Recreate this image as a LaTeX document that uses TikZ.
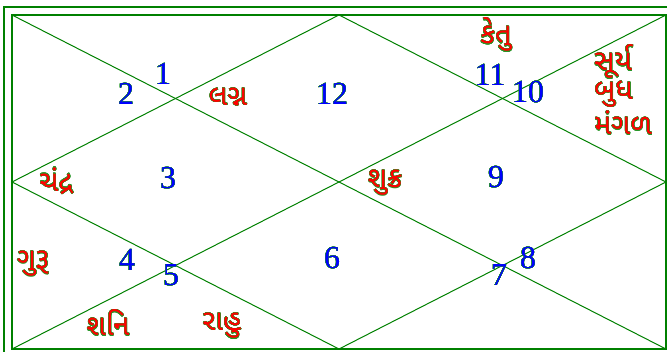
\documentclass[tikz,border=0pt]{standalone}
\usepackage{fontspec}
\setmainfont{Liberation Serif}
\newfontfamily\guj[Script=Gujarati]{Noto Sans Gujarati UI}
\usepackage{contour}
\contourlength{0.3pt}
\contournumber{16}
\definecolor{chartgreen}{RGB}{0,128,0}
\definecolor{edgegreen}{RGB}{40,150,40}
\newcommand{\numtext}[1]{\contourlength{0.15pt}\contour{edgegreen}{#1}}
\newcommand{\gujtext}[1]{\contourlength{0.3pt}\contour{edgegreen}{#1}}
\begin{document}
\begin{tikzpicture}[x=1pt,y=-1pt,
  frame/.style={draw=chartgreen,line width=1.1pt},
  grid/.style={draw=chartgreen,line width=1pt},
  num/.style={text=blue,font=\fontsize{32}{32}\selectfont,inner sep=0pt},
  planet/.style={text=red,font=\guj\fontsize{29}{29}\selectfont,inner sep=0pt}]
\useasboundingbox (0,0) rectangle (667,352);
\clip (0,0) rectangle (667,352);
\coordinate (OTL) at (4,7);
\coordinate (OBR) at (680,362);
\coordinate (TL) at (12,15);
\coordinate (TR) at (666,15);
\coordinate (BL) at (12,349);
\coordinate (BR) at (666,349);
\coordinate (T) at (339,15);
\coordinate (L) at (12,182);
\coordinate (B) at (339,349);
\coordinate (R) at (666,182);
\draw[frame] (OTL) rectangle (OBR);
\draw[frame] (TL) rectangle (BR);
\draw[grid] (TL) -- (BR);
\draw[grid] (TR) -- (BL);
\draw[grid] (T) -- (R) -- (B) -- (L) -- cycle;
% house numbers
\node[num] (n1) at (163,74) {\numtext{1}};
\node[num] (n2) at (126,94) {\numtext{2}};
\node[num] (n3) at (168,178) {\numtext{3}};
\node[num] (n4) at (127,260) {\numtext{4}};
\node[num] (n5) at (171,275) {\numtext{5}};
\node[num] (n6) at (332,258) {\numtext{6}};
\node[num] (n7) at (499,275) {\numtext{7}};
\node[num] (n8) at (528,258) {\numtext{8}};
\node[num] (n9) at (496,177) {\numtext{9}};
\node[num] (n10) at (528,92) {\numtext{10}};
\node[num] (n11) at (490,75) {\numtext{11}};
\node[num] (n12) at (332,94) {\numtext{12}};
% planets
\node[planet] (lagna) at (228,97) {\gujtext{લગ્ન}};
\node[planet] (ketu) at (496,35) {\gujtext{કેતુ}};
\node[planet,anchor=west] (surya) at (594,62) {\gujtext{સૂર્ય}};
\node[planet,anchor=west] (budh) at (594,94) {\gujtext{બુધ}};
\node[planet,anchor=west] (mangal) at (594,123) {\gujtext{મંગળ}};
\node[planet] (chandra) at (56,181) {\gujtext{ચંદ્ર}};
\node[planet] (shukra) at (385,183) {\gujtext{શુક્ર}};
\node[planet] (guru) at (33,264) {\gujtext{ગુરૂ}};
\node[planet] (shani) at (108,323) {\gujtext{શનિ}};
\node[planet] (rahu) at (222,326) {\gujtext{રાહુ}};
\end{tikzpicture}
\end{document}
